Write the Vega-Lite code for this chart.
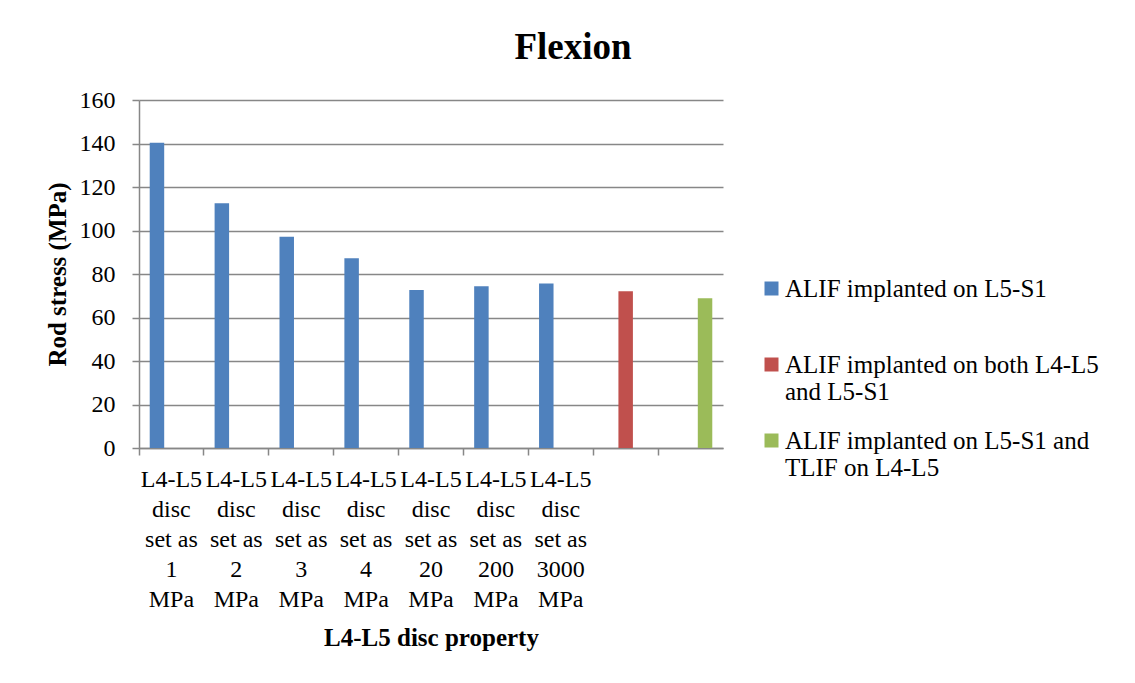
{
  "$schema": "https://vega.github.io/schema/vega-lite/v6.json",
  "autosize": {"type": "none"},
  "width": 584,
  "height": 348,
  "padding": {"left": 139, "top": 100, "right": 412, "bottom": 235},
  "background": "white",
  "title": {
    "text": "Flexion",
    "anchor": "middle",
    "frame": "group",
    "dx": 142,
    "offset": 21,
    "font": "Liberation Serif",
    "fontSize": 37,
    "fontWeight": "bold",
    "color": "#000000"
  },
  "data": {
    "values": [
      {"cat": "L4-L5 disc set as 1 MPa", "series": "ALIF implanted on L5-S1", "stress": 140.3},
      {"cat": "L4-L5 disc set as 2 MPa", "series": "ALIF implanted on L5-S1", "stress": 112.5},
      {"cat": "L4-L5 disc set as 3 MPa", "series": "ALIF implanted on L5-S1", "stress": 97.1},
      {"cat": "L4-L5 disc set as 4 MPa", "series": "ALIF implanted on L5-S1", "stress": 87.2},
      {"cat": "L4-L5 disc set as 20 MPa", "series": "ALIF implanted on L5-S1", "stress": 72.6},
      {"cat": "L4-L5 disc set as 200 MPa", "series": "ALIF implanted on L5-S1", "stress": 74.4},
      {"cat": "L4-L5 disc set as 3000 MPa", "series": "ALIF implanted on L5-S1", "stress": 75.6},
      {"cat": "ALIF on both levels", "series": "ALIF implanted on both L4-L5 and L5-S1", "stress": 72.1},
      {"cat": "ALIF with TLIF", "series": "ALIF implanted on L5-S1 and TLIF on L4-L5", "stress": 68.9}
    ]
  },
  "mark": {"type": "bar"},
  "encoding": {
    "x": {
      "field": "cat",
      "type": "nominal",
      "sort": null,
      "scale": {"paddingInner": 0, "paddingOuter": 0},
      "axis": {
        "title": "L4-L5 disc property",
        "titleFont": "Liberation Serif",
        "titleFontSize": 25,
        "titleFontWeight": "bold",
        "titleColor": "#000000",
        "titleX": 292,
        "titleY": 189,
        "titleAlign": "center",
        "titleBaseline": "middle",
        "labelExpr": "indexof(datum.value, 'MPa') < 0 ? '' : ['L4-L5', 'disc', 'set as', replace(replace(datum.value, 'L4-L5 disc set as ', ''), ' MPa', ''), 'MPa']",
        "labelAngle": 0,
        "labelFont": "Liberation Serif",
        "labelFontSize": 24,
        "labelColor": "#000000",
        "labelLineHeight": 30,
        "labelBaseline": "middle",
        "labelPadding": 24,
        "labelOverlap": false,
        "bandPosition": 0,
        "tickSize": 7,
        "tickColor": "#878787",
        "tickWidth": 1.5,
        "domainColor": "#878787",
        "domainWidth": 1.5,
        "grid": false
      }
    },
    "xOffset": {
      "field": "series",
      "type": "nominal",
      "sort": ["ALIF implanted on L5-S1", "ALIF implanted on both L4-L5 and L5-S1", "ALIF implanted on L5-S1 and TLIF on L4-L5"],
      "scale": {"paddingInner": 0, "paddingOuter": 0.74}
    },
    "y": {
      "field": "stress",
      "type": "quantitative",
      "scale": {"domain": [0, 160], "nice": false},
      "axis": {
        "title": "Rod stress (MPa)",
        "titleFont": "Liberation Serif",
        "titleFontSize": 25,
        "titleFontWeight": "bold",
        "titleColor": "#000000",
        "titleX": -82,
        "titleY": 174,
        "titleAngle": -90,
        "titleAlign": "center",
        "titleBaseline": "middle",
        "values": [0, 20, 40, 60, 80, 100, 120, 140, 160],
        "labelFont": "Liberation Serif",
        "labelFontSize": 24,
        "labelColor": "#000000",
        "labelPadding": 17,
        "tickSize": 7,
        "tickColor": "#878787",
        "tickWidth": 1.5,
        "domainColor": "#878787",
        "domainWidth": 1.5,
        "grid": true,
        "gridColor": "#878787",
        "gridWidth": 1.5,
        "gridOpacity": 1
      }
    },
    "color": {
      "field": "series",
      "type": "nominal",
      "scale": {
        "domain": ["ALIF implanted on L5-S1", "ALIF implanted on both L4-L5 and L5-S1", "ALIF implanted on L5-S1 and TLIF on L4-L5"],
        "range": ["#4F81BD", "#C0504D", "#9BBB59"]
      },
      "legend": {
        "title": null,
        "orient": "none",
        "legendX": 620,
        "legendY": 176,
        "padding": 0,
        "symbolType": "square",
        "symbolSize": 196,
        "symbolStrokeWidth": 0,
        "labelFont": "Liberation Serif",
        "labelFontSize": 25,
        "labelColor": "#000000",
        "labelLineHeight": 28,
        "labelOffset": 1,
        "labelLimit": 400,
        "rowPadding": 23,
        "labelExpr": "datum.label == 'ALIF implanted on L5-S1' ? ['ALIF implanted on L5-S1', ''] : datum.label == 'ALIF implanted on both L4-L5 and L5-S1' ? ['ALIF implanted on both L4-L5', 'and L5-S1'] : ['ALIF implanted on L5-S1 and', 'TLIF on L4-L5']"
      }
    }
  },
  "config": {
    "view": {"stroke": null},
    "font": "Liberation Serif"
  }
}
